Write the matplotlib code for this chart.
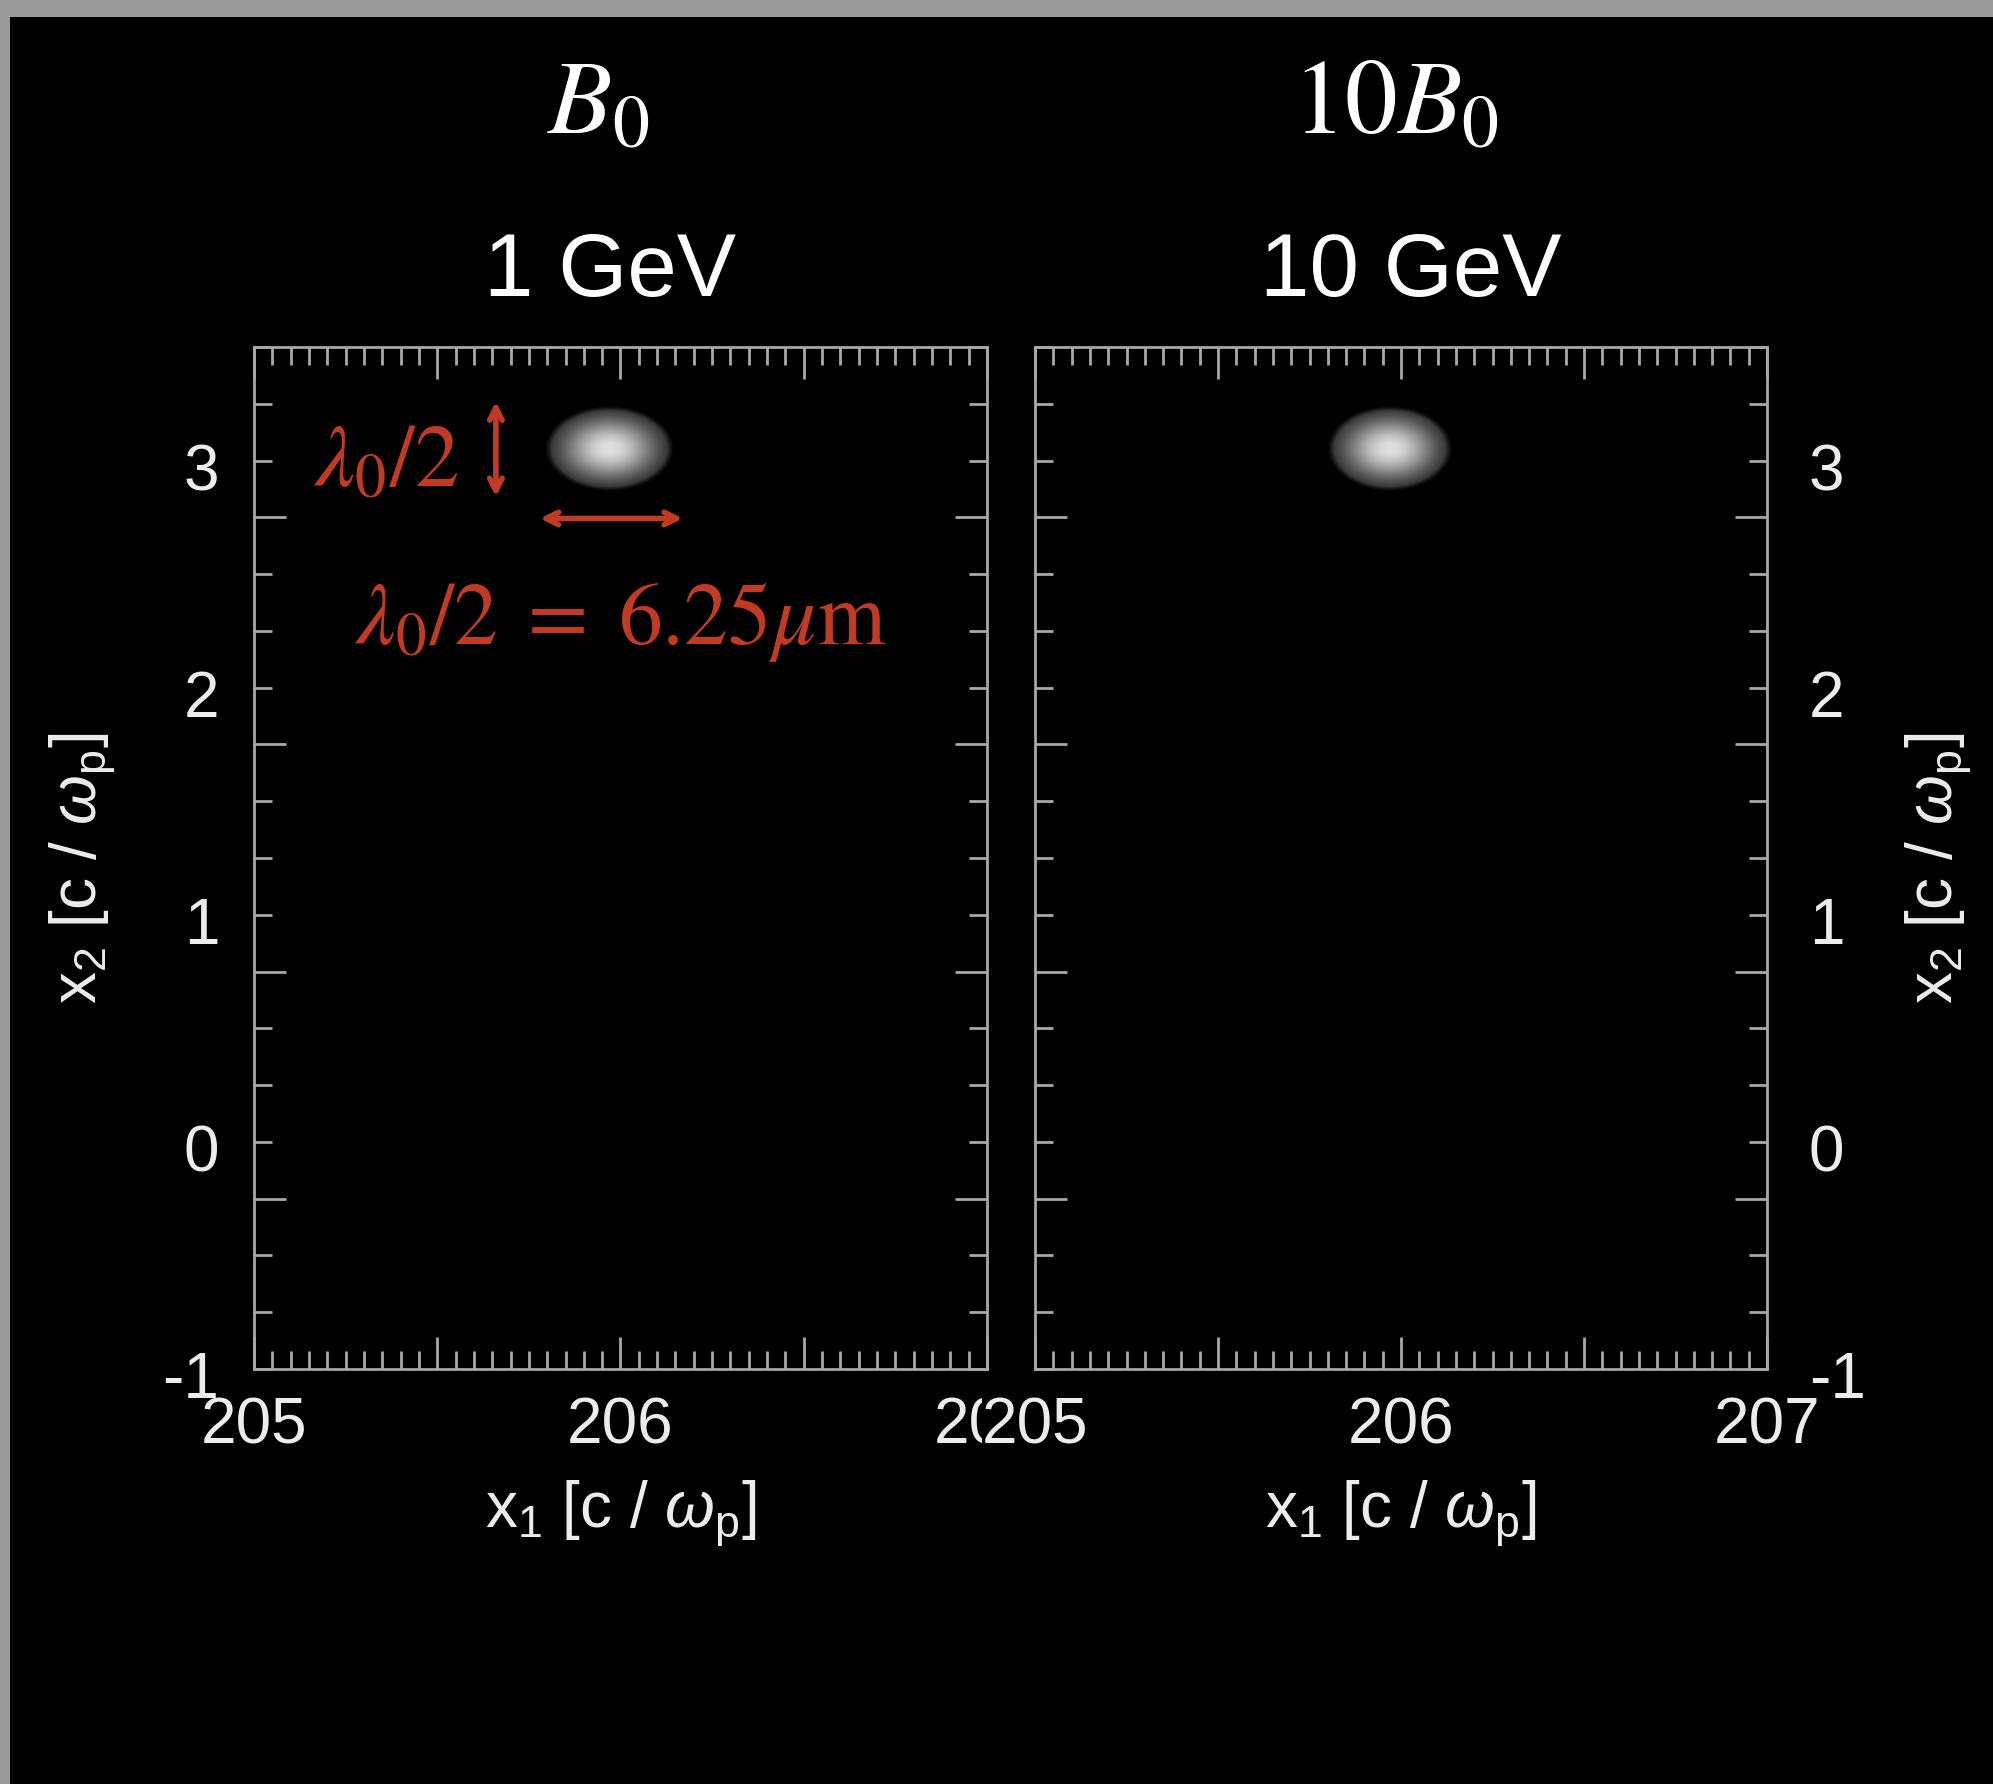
import numpy as np
import matplotlib.pyplot as plt
from matplotlib.patches import Rectangle

plt.rcParams["font.family"] = ["Liberation Sans", "DejaVu Sans"]
plt.rcParams["mathtext.fontset"] = "custom"
plt.rcParams["mathtext.rm"] = "Liberation Sans"
plt.rcParams["mathtext.it"] = "Liberation Sans:italic"

# ---- data ----
panel_fields = [r"$B_0$", r"$10B_0$"]
panel_energies = ["1 GeV", "10 GeV"]
x1_limits = [205, 207]
x2_limits = [-1, 3.5]
x_major_ticks = [205, 205.5, 206, 206.5, 207]
x_major_labels = ["205", "", "206", "", "207"]
y_long_ticks = [-0.25, 0.75, 1.75, 2.75]
y_label_values = [-1, 0, 1, 2, 3]
y_label_texts = ["-1", "0", "1", "2", "3"]
beam_x1 = [205.97, 205.97]
beam_x2 = [3.05, 3.05]
beam_half_x1 = [0.16, 0.155]
beam_half_x2 = [0.17, 0.17]
beam_peak = [0.88, 0.88]

red = "#C13B24"
axis_gray = "#a8a8a8"
label_col = "#ececec"

fig = plt.figure(figsize=(19.93, 17.84), dpi=100, facecolor="black")

# gray window frame at top and left
fig.patches.append(Rectangle((0, 1 - 17 / 1784), 1, 17 / 1784, transform=fig.transFigure,
                             facecolor="#9a9a9a", edgecolor="none", zorder=-5))
fig.patches.append(Rectangle((0, 0), 10 / 1993, 1, transform=fig.transFigure,
                             facecolor="#9a9a9a", edgecolor="none", zorder=-5))

axes_boxes = [[254 / 1993, 1 - 1369 / 1784, 733 / 1993, 1022 / 1784],
              [1035 / 1993, 1 - 1369 / 1784, 732 / 1993, 1022 / 1784]]

axs = []
for i in range(2):
    ax = fig.add_axes(axes_boxes[i])
    ax.set_facecolor("black")

    # beam density
    cx, cy = beam_x1[i], beam_x2[i]
    hx, hy = beam_half_x1[i], beam_half_x2[i]
    gx = np.linspace(cx - 1.3 * hx, cx + 1.3 * hx, 240)
    gy = np.linspace(cy - 1.3 * hy, cy + 1.3 * hy, 240)
    X, Y = np.meshgrid(gx, gy)
    r = np.sqrt(((X - cx) / hx) ** 2 + ((Y - cy) / hy) ** 2)
    dens = beam_peak[i] * np.exp(-1.4 * r ** 2) * np.clip((1.1 - r) / 0.12, 0, 1)
    ax.imshow(dens, extent=[gx[0], gx[-1], gy[0], gy[-1]], origin="lower", cmap="gray",
              vmin=0, vmax=1, aspect="auto", interpolation="bilinear")

    ax.set_xlim(x1_limits)
    ax.set_ylim(x2_limits)

    # x ticks
    ax.set_xticks(x_major_ticks)
    ax.set_xticklabels(x_major_labels)
    ax.set_xticks(np.arange(205, 207.001, 0.05), minor=True)
    # y ticks: long marks sit between the labels
    ax.set_yticks(y_long_ticks)
    ax.set_yticklabels([])
    ax.set_yticks(np.arange(-1, 3.501, 0.25), minor=True)

    ax.tick_params(which="both", direction="in", top=True, bottom=True, left=True, right=True,
                   color=axis_gray, width=2, labelcolor=label_col, labelsize=46,
                   labelleft=False, labelright=False)
    ax.tick_params(which="major", length=23)
    ax.tick_params(which="minor", length=13)
    ax.tick_params(axis="x", which="major", pad=20)
    for s in ax.spines.values():
        s.set_color(axis_gray)
        s.set_linewidth(2)

    # y tick labels
    for v, t in zip(y_label_values, y_label_texts):
        if i == 0:
            ax.annotate(t, xy=(0, v), xycoords=("axes fraction", "data"), xytext=(-25, -9),
                        textcoords="offset points", ha="right", va="center",
                        fontsize=46, color=label_col)
        else:
            ax.annotate(t, xy=(1, v), xycoords=("axes fraction", "data"), xytext=(30, -9),
                        textcoords="offset points", ha="left", va="center",
                        fontsize=46, color=label_col)

    ax.set_xlabel(r"x$_1$ [c / $\omega_{\rm p}$]", fontsize=46, color=label_col, labelpad=16)
    ax.set_ylabel(r"x$_2$ [c / $\omega_{\rm p}$]", fontsize=46, color=label_col)
    ax.yaxis.label.set(rotation=90, ha="center", va="center")
    if i == 0:
        ax.yaxis.set_label_coords(-0.233, 0.49)
    else:
        ax.yaxis.set_label_position("right")
        ax.yaxis.set_label_coords(1.235, 0.49)
        ax.yaxis.label.set(rotation=90, ha="center", va="center")
    axs.append(ax)

# right panel's first label hides the end of the left panel's last label
axs[1].get_xticklabels()[0].set_bbox(dict(facecolor="black", edgecolor="none", pad=0))

# panel headings
head_x = [0.300, 0.700]
title_x = [0.306, 0.708]
for i in range(2):
    fig.text(head_x[i], 0.9254, panel_fields[i], fontsize=76, color="white", ha="center",
             va="baseline", math_fontfamily="stix")
    fig.text(title_x[i], 0.834, panel_energies[i], fontsize=64, color="white", ha="center",
             va="baseline")

# red size annotations on the left panel
ax = axs[0]
ax.text(205.36, 2.99, r"$\lambda_0/2$", fontsize=64, color=red, ha="center", va="center",
        math_fontfamily="stix")
arrow_style = "<->,head_length=0.9,head_width=0.45"
ax.annotate("", xy=(205.66, 3.26), xytext=(205.66, 2.84),
            arrowprops=dict(arrowstyle=arrow_style, color=red, lw=4, shrinkA=0, shrinkB=0))
ax.annotate("", xy=(205.78, 2.745), xytext=(206.17, 2.745),
            arrowprops=dict(arrowstyle=arrow_style, color=red, lw=4, shrinkA=0, shrinkB=0))
ax.text(206.0, 2.29, r"$\lambda_0/2\;=\;6.25\mu\mathrm{m}$", fontsize=63, color=red,
        ha="center", va="center", math_fontfamily="stix")

plt.savefig("out.png", dpi=100, facecolor="black")
